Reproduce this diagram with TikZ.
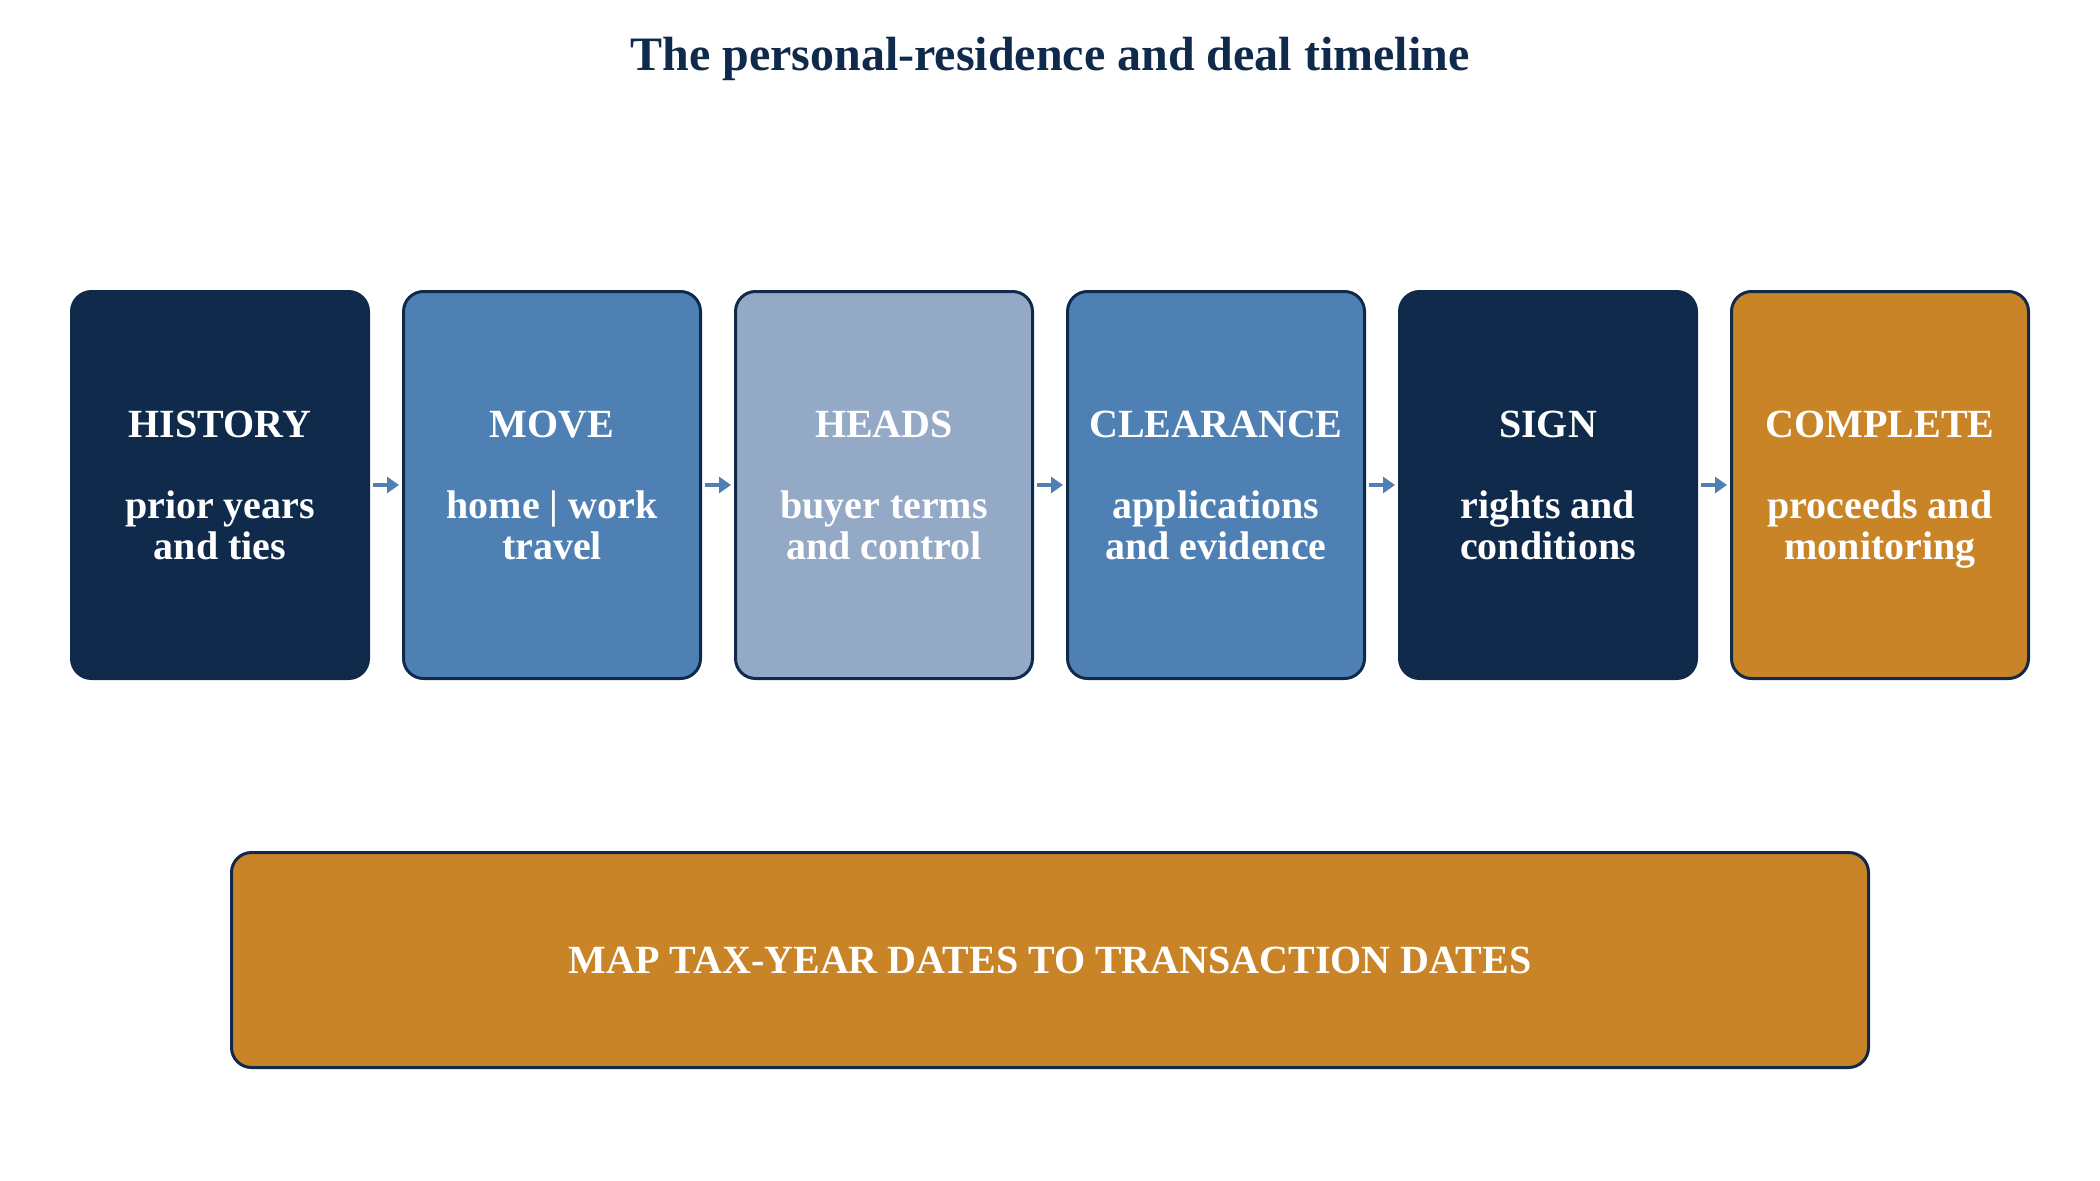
\documentclass[tikz,border=0pt]{standalone}
\usepackage{fontspec}
\setmainfont{Liberation Serif}
\usetikzlibrary{positioning,arrows.meta}

\definecolor{navy}{HTML}{0F2A4A}
\definecolor{midblue}{HTML}{4F80B4}
\definecolor{paleblue}{HTML}{94A9C6}
\definecolor{amber}{HTML}{C98428}

\begin{document}
\begin{tikzpicture}[x=1pt, y=1pt, node distance=32pt,
    stage/.style = {draw=navy, line width=3pt, rounded corners=20pt, inner sep=0pt,
      minimum width=297pt, minimum height=387pt, align=center, text=white,
      text depth=0pt, font=\bfseries\fontsize{40}{41}\selectfont},
    link/.style = {-{Triangle[length=12pt,width=16pt]}, midblue, line width=4pt,
      shorten <=3pt, shorten >=3pt}]
  \useasboundingbox (0,0) rectangle (2100,-1180);

  \node[text=navy, font=\bfseries\fontsize{48}{50}\selectfont] (title) at (1050,-59)
    {The personal-residence and deal timeline};

  \node[stage, fill=navy] (history) at (220,-485) {HISTORY\\[40pt]prior years\\and ties};
  \node[stage, fill=midblue, right=of history] (move) {MOVE\\[40pt]home | work\\travel};
  \node[stage, fill=paleblue, right=of move] (heads) {HEADS\\[40pt]buyer terms\\and control};
  \node[stage, fill=midblue, right=of heads] (clearance) {CLEARANCE\\[40pt]applications\\and evidence};
  \node[stage, fill=navy, right=of clearance] (sign) {SIGN\\[40pt]rights and\\conditions};
  \node[stage, fill=amber, right=of sign] (complete) {COMPLETE\\[40pt]proceeds and\\monitoring};

  \foreach \a/\b in {history/move, move/heads, heads/clearance, clearance/sign, sign/complete}
    \draw[link] (\a.east) -- (\b.west);

  \node[stage, fill=amber, minimum width=1637pt, minimum height=215pt] (map) at (1050,-960)
    {MAP TAX-YEAR DATES TO TRANSACTION DATES};
\end{tikzpicture}
\end{document}
